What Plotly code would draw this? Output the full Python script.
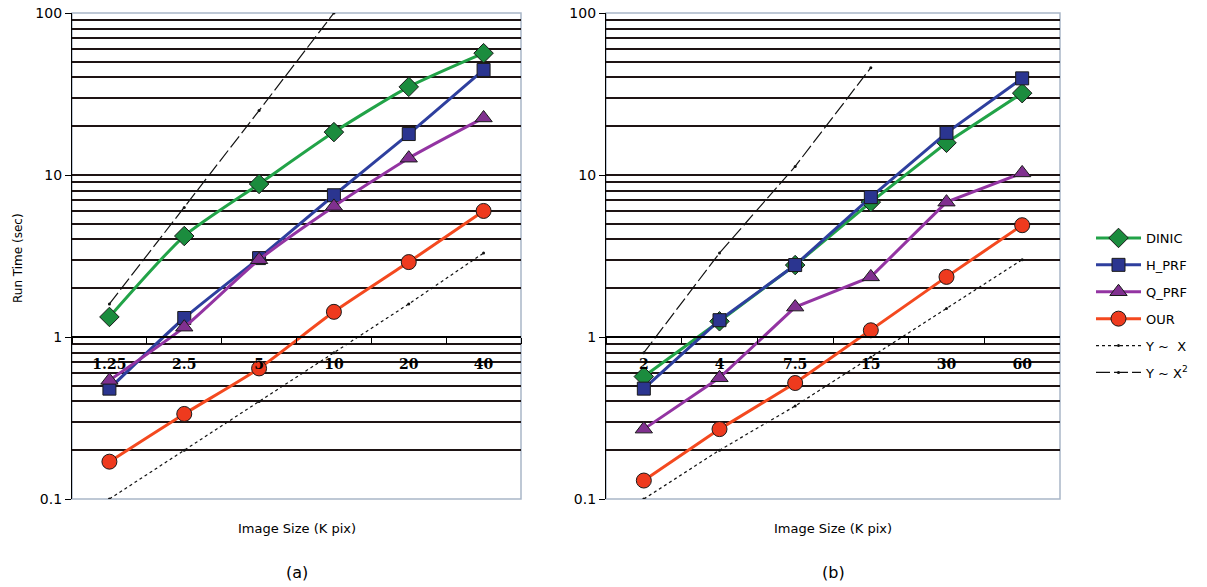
import plotly.graph_objects as go

# ---------------- data ----------------
sizes_a = ["1.25", "2.5", "5", "10", "20", "40"]
dinic_a = [1.33, 4.2, 8.8, 18.4, 35.0, 56.5]
hprf_a = [0.48, 1.31, 3.07, 7.5, 17.9, 44.5]
qprf_a = [0.54, 1.15, 3.0, 6.4, 12.7, 22.5]
our_a = [0.17, 0.335, 0.64, 1.43, 2.9, 6.0]
yx_a = [0.1, 0.2, 0.4, 0.8, 1.6, 3.3]
yx2_sizes_a = ["1.25", "2.5", "5", "10"]
yx2_a = [1.6, 6.3, 25.0, 100.0]

sizes_b = ["2", "4", "7.5", "15", "30", "60"]
dinic_b = [0.57, 1.25, 2.78, 6.8, 15.8, 32.0]
hprf_b = [0.48, 1.27, 2.78, 7.3, 18.2, 39.5]
qprf_b = [0.27, 0.56, 1.53, 2.35, 6.8, 10.3]
our_b = [0.13, 0.27, 0.52, 1.1, 2.35, 4.9]
yx_b = [0.1, 0.2, 0.375, 0.75, 1.5, 3.0]
yx2_sizes_b = ["2", "4", "7.5", "15"]
yx2_b = [0.8, 3.3, 11.3, 46.0]

y_ticks = [0.1, 1, 10, 100]
y_ticktext = ["0.1", "1", "10", "100"]
y_minor = [0.2, 0.3, 0.4, 0.5, 0.6, 0.7, 0.8, 0.9,
           2, 3, 4, 5, 6, 7, 8, 9,
           20, 30, 40, 50, 60, 70, 80, 90]

# ---------------- styles ----------------
series = [
    ("DINIC", "#22a348", "#1b8c3e", "diamond", 15),
    ("H_PRF", "#2e3f9e", "#2b3590", "square", 13),
    ("Q_PRF", "#9334a2", "#80308f", "triangle-up", 15),
    ("OUR", "#f4491f", "#ee3a1e", "circle", 15),
]

fig = go.Figure()

def add_panel(xax, yax, cats, vals, yx, yx2c, yx2, show, shape):
    for (name, lc, mc, sym, ms), v in zip(series, vals):
        fig.add_trace(go.Scatter(
            x=cats, y=v, name=name, xaxis=xax, yaxis=yax,
            mode="lines+markers", showlegend=show, legendgroup=name,
            line=dict(color=lc, width=3, shape=shape, smoothing=0.6),
            marker=dict(symbol=sym, size=ms, color=mc,
                        line=dict(color="#1a1a1a", width=1)),
        ))
    fig.add_trace(go.Scatter(
        x=cats, y=yx, name="Y ~  X", xaxis=xax, yaxis=yax,
        mode="lines+markers", showlegend=show, legendgroup="yx",
        line=dict(color="#111111", width=1.2, dash="3px,3px"),
        marker=dict(size=3, color="#111111"),
    ))
    fig.add_trace(go.Scatter(
        x=yx2c, y=yx2, name="Y ~ X<sup>2</sup>", xaxis=xax, yaxis=yax,
        mode="lines+markers", showlegend=show, legendgroup="yx2",
        line=dict(color="#111111", width=1.2, dash="14px,4px"),
        marker=dict(size=3, color="#111111"),
    ))

add_panel("x", "y", sizes_a, [dinic_a, hprf_a, qprf_a, our_a],
          yx_a, yx2_sizes_a, yx2_a, True, "spline")
add_panel("x2", "y2", sizes_b, [dinic_b, hprf_b, qprf_b, our_b],
          yx_b, yx2_sizes_b, yx2_b, False, "linear")

H = 587.0
W = 1207.0

def px(v):
    return v / W

def py(v):
    return 1 - v / H

y_dom = [py(499), py(13)]
xa_dom = [px(72), px(521)]
xb_dom = [px(606), px(1060)]
axis_pos = y_dom[0] + (y_dom[1] - y_dom[0]) / 3.0

grid_col = "#1e1414"
base_font = "DejaVu Sans"

def yaxis_def(anchor):
    return dict(
        type="log", range=[-1, 2], domain=y_dom, anchor=anchor,
        tickvals=y_ticks, ticktext=y_ticktext,
        ticks="outside", ticklen=6, tickcolor="black",
        showline=True, linecolor="black", linewidth=1.2,
        showgrid=True, gridcolor=grid_col, gridwidth=1.5,
        minor=dict(tickvals=y_minor, showgrid=True, gridcolor=grid_col,
                   gridwidth=1.5, ticks=""),
        tickfont=dict(family=base_font, size=14, color="black"),
        ticklabeloverflow="allow",
        zeroline=False, automargin=False,
    )

def xaxis_def(dom, cats):
    return dict(
        type="category", domain=dom, anchor="free", position=axis_pos,
        categoryorder="array", categoryarray=cats, range=[-0.5, 5.5],
        showgrid=False, showline=True, linecolor="black", linewidth=1.5,
        ticks="outside", tickson="boundaries", ticklen=6, tickcolor="black",
        ticklabelstandoff=14,
        tickfont=dict(family="DejaVu Serif", size=14, color="black"),
        tickprefix="<b>", ticksuffix="</b>",
        zeroline=False, automargin=False,
    )

fig.update_layout(
    width=1207, height=587,
    margin=dict(l=0, r=0, t=0, b=0),
    paper_bgcolor="white", plot_bgcolor="white",
    xaxis=xaxis_def(xa_dom, sizes_a),
    yaxis=yaxis_def("x"),
    xaxis2=xaxis_def(xb_dom, sizes_b),
    yaxis2=yaxis_def("x2"),
    showlegend=True,
    legend=dict(x=px(1091), y=py(223), xanchor="left", yanchor="top",
                font=dict(family=base_font, size=13, color="black"),
                bgcolor="rgba(0,0,0,0)", tracegroupgap=7,
                itemwidth=45),
)

# plot-area frame
for xr, yr in (("x domain", "y domain"), ("x2 domain", "y2 domain")):
    fig.add_shape(type="rect", xref=xr, yref=yr, x0=0, x1=1, y0=0, y1=1,
                  line=dict(color="#a9b6c8", width=1.5), layer="below")

ann_font = dict(family=base_font, size=13, color="black")
centers = ((xa_dom[0] + xa_dom[1]) / 2, (xb_dom[0] + xb_dom[1]) / 2)
for xc, lab in zip(centers, ("(a)", "(b)")):
    fig.add_annotation(x=xc, y=py(528), xref="paper", yref="paper",
                       xanchor="center", yanchor="middle",
                       text="Image Size (K pix)", showarrow=False, font=ann_font)
    fig.add_annotation(x=xc, y=py(572), xref="paper", yref="paper",
                       xanchor="center", yanchor="middle",
                       text=lab, showarrow=False,
                       font=dict(family=base_font, size=16, color="black"))
fig.add_annotation(x=px(18), y=py(258), xref="paper", yref="paper",
                   xanchor="center", yanchor="middle",
                   text="Run Time (sec)", textangle=-90, showarrow=False,
                   font=dict(family=base_font, size=12, color="black"))

fig.write_html("out.html",
               config={"displayModeBar": False},
               post_script="document.body.style.margin='0px';"
                           "document.body.style.padding='0px';")
